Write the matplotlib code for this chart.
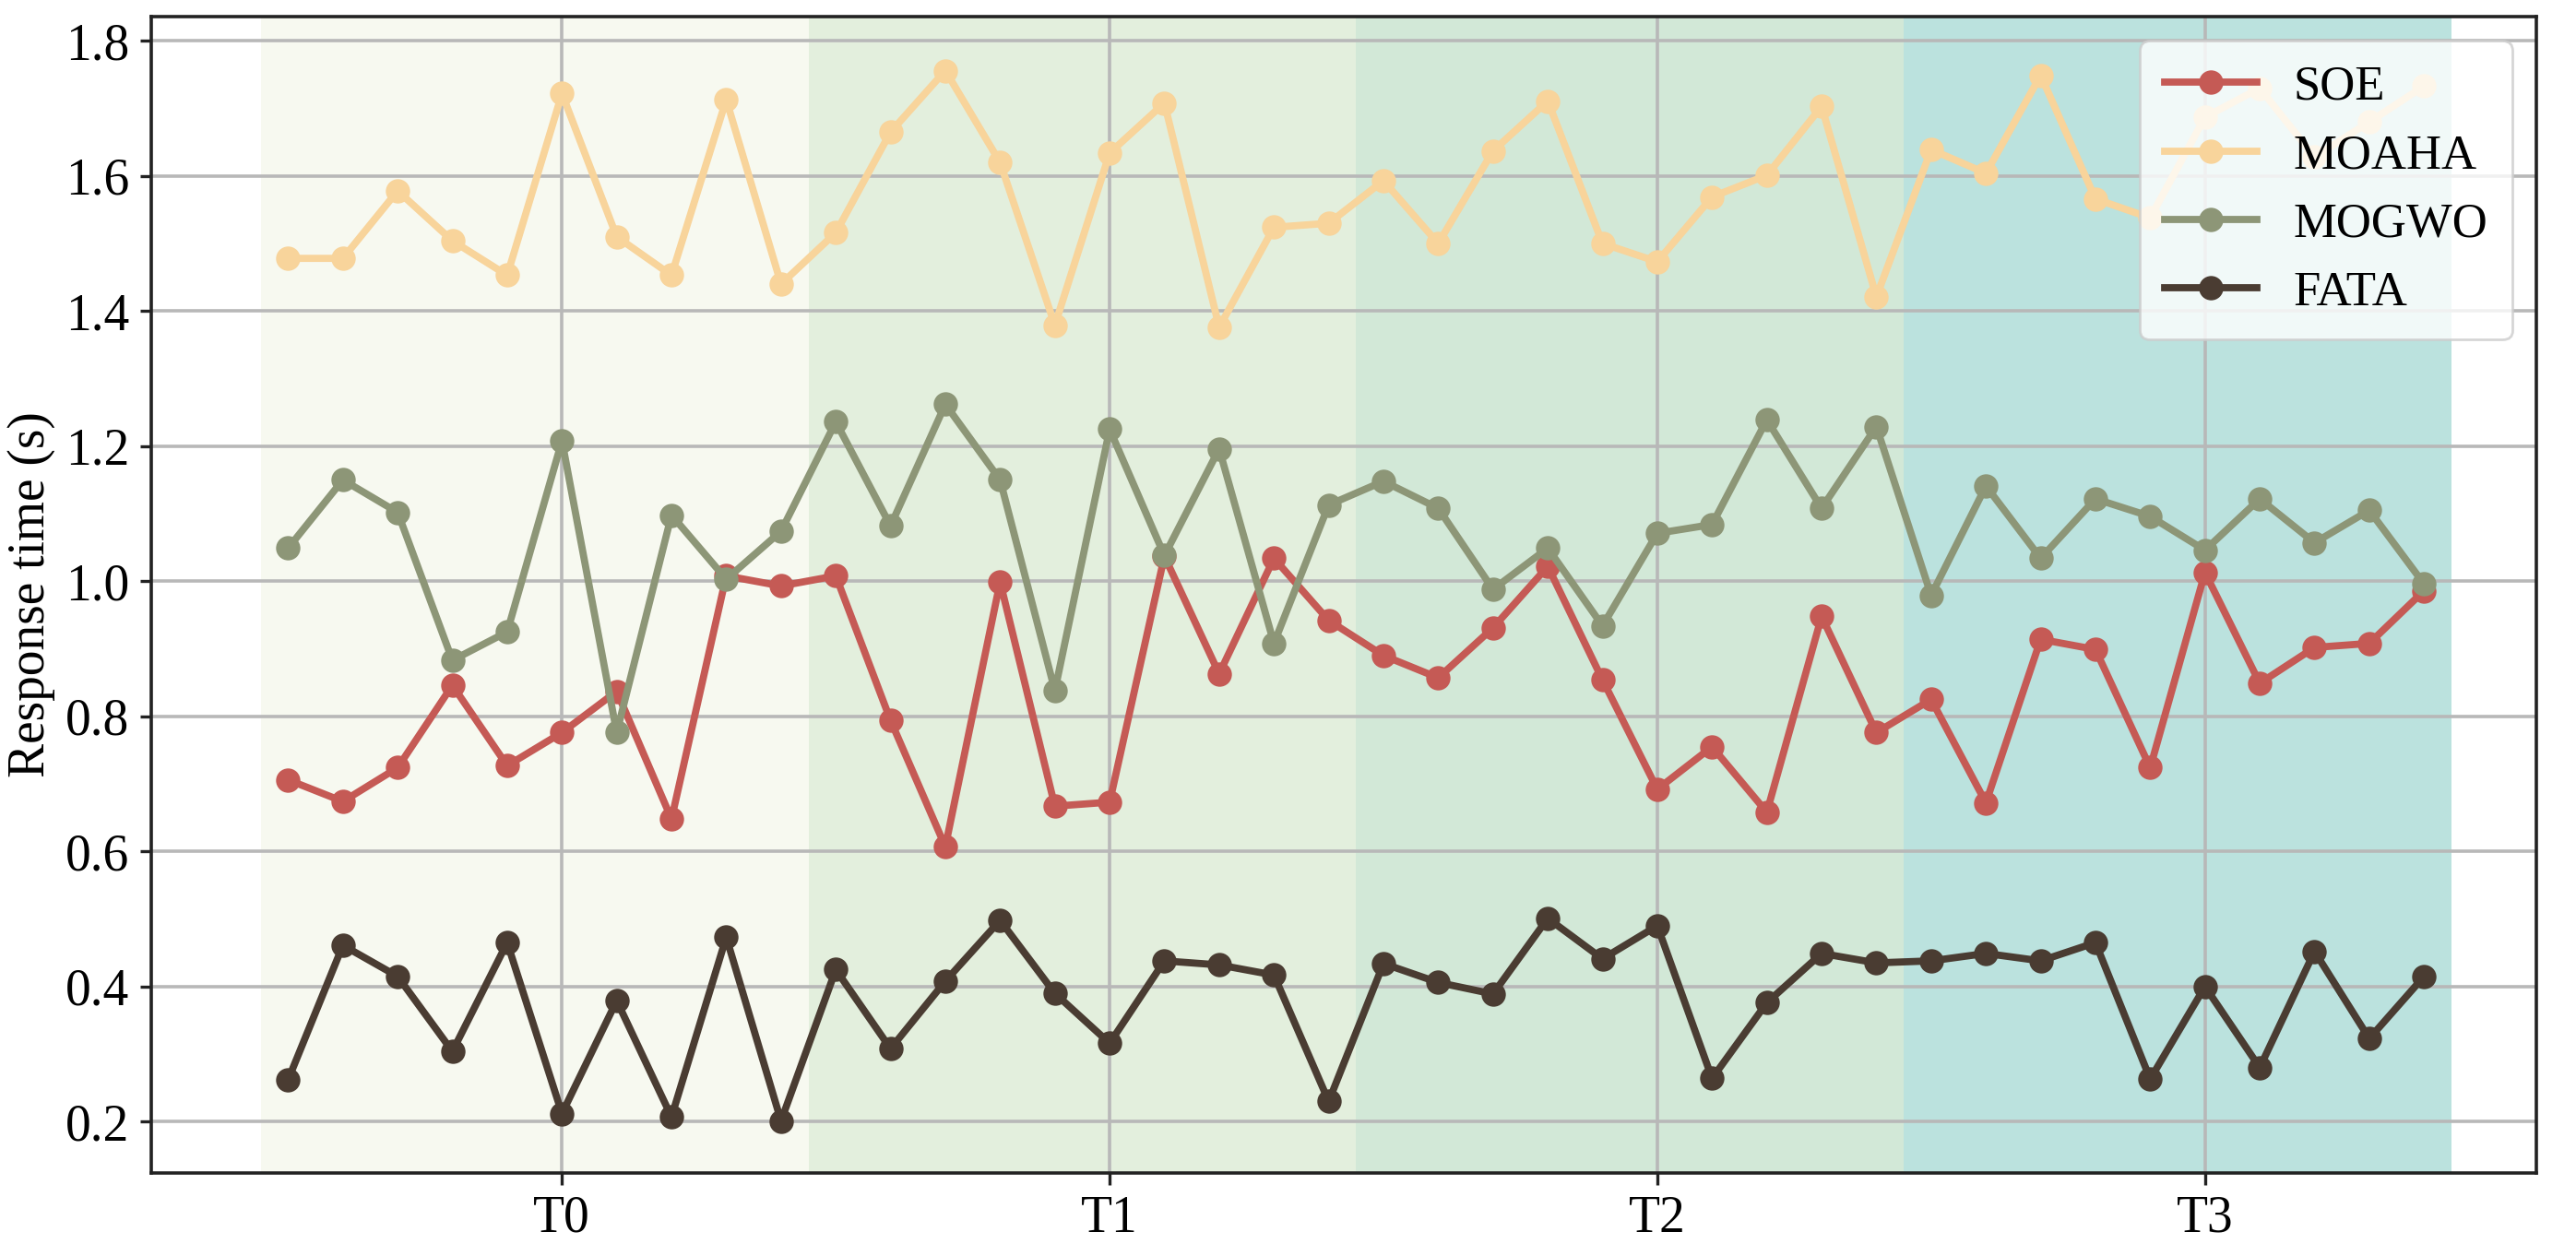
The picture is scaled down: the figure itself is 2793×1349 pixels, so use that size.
#!/usr/bin/env python3
"""Response time of four schedulers over four stages (T0-T3)."""

import numpy as np
import matplotlib
matplotlib.use('Agg')
import matplotlib.pyplot as plt

# stage labels and their background colours
stages = ["T0", "T1", "T2", "T3"]
stage_colors = ["#f7f9f0", "#e3efdd", "#d2e8d7", "#bbe2de"]
points_per_stage = 10

soe = [0.706, 0.674, 0.724, 0.846, 0.727, 0.776, 0.837, 0.648, 1.008, 0.993,
       1.008, 0.794, 0.607, 0.999, 0.667, 0.673, 1.037, 0.863, 1.034, 0.942,
       0.890, 0.857, 0.931, 1.022, 0.854, 0.692, 0.755, 0.658, 0.948, 0.776,
       0.825, 0.672, 0.914, 0.899, 0.724, 1.013, 0.849, 0.902, 0.908, 0.986]
moaha = [1.478, 1.478, 1.578, 1.504, 1.453, 1.722, 1.510, 1.453, 1.713, 1.440,
         1.516, 1.665, 1.756, 1.620, 1.379, 1.634, 1.708, 1.376, 1.524, 1.530,
         1.593, 1.500, 1.637, 1.711, 1.500, 1.473, 1.569, 1.601, 1.703, 1.421,
         1.639, 1.604, 1.749, 1.566, 1.538, 1.687, 1.730, 1.628, 1.680, 1.733]
mogwo = [1.049, 1.150, 1.102, 0.883, 0.925, 1.208, 0.776, 1.098, 1.003, 1.074,
         1.236, 1.082, 1.262, 1.150, 0.838, 1.225, 1.038, 1.196, 0.908, 1.113,
         1.148, 1.108, 0.988, 1.049, 0.934, 1.071, 1.084, 1.239, 1.108, 1.229,
         0.979, 1.141, 1.034, 1.122, 1.096, 1.046, 1.122, 1.057, 1.105, 0.996]
fata = [0.262, 0.461, 0.415, 0.304, 0.465, 0.212, 0.379, 0.207, 0.473, 0.201,
        0.425, 0.308, 0.408, 0.498, 0.390, 0.316, 0.438, 0.432, 0.417, 0.230,
        0.434, 0.406, 0.389, 0.501, 0.441, 0.490, 0.264, 0.376, 0.449, 0.435,
        0.438, 0.449, 0.438, 0.465, 0.263, 0.400, 0.280, 0.452, 0.323, 0.415]

series = [
    ("SOE", soe, "#c55a55"),
    ("MOAHA", moaha, "#f8d49b"),
    ("MOGWO", mogwo, "#8d9677"),
    ("FATA", fata, "#4a3c32"),
]

FONT = ['Liberation Serif', 'DejaVu Serif']
plt.rcParams['font.family'] = FONT
plt.rcParams['font.size'] = 20

fig = plt.figure(figsize=(13.965, 6.745), dpi=200)
ax = fig.add_axes([0.0587, 0.0571, 0.9259, 0.9296])

# x positions: each stage centred on its integer, points at -0.5 .. +0.4
n = len(soe)
x = np.arange(n) * 0.1 - 0.5

for i, c in enumerate(stage_colors):
    ax.axvspan(i - 0.55, i + 0.45, color=c, lw=0, zorder=1)

for name, vals, color in series:
    ax.plot(x, vals, marker='o', color=color, lw=2.8, markersize=8.5,
            label=name, zorder=3)

ax.set_xticks(range(len(stages)))
ax.set_xticklabels(stages)
ax.set_yticks(np.arange(0.2, 1.81, 0.2))
ax.set_yticklabels([f"{v:.1f}" for v in np.arange(0.2, 1.81, 0.2)])
ax.set_xlim(-0.75, 3.605)
ax.set_ylim(0.124, 1.836)
ax.set_ylabel("Response time (s)")

ax.grid(True, color='#b8b8b8', lw=1.3, zorder=1.5)
ax.tick_params(length=4.5, width=1.2, pad=4, color='#222222')
for sp in ax.spines.values():
    sp.set_linewidth(1.3)
    sp.set_color('#222222')

ax.legend(loc='upper right', prop={'family': FONT, 'size': 19},
          labelspacing=0.5, handlelength=1.9, handletextpad=0.75,
          borderpad=0.5, framealpha=0.8)

fig.savefig("out.png", dpi=200)
